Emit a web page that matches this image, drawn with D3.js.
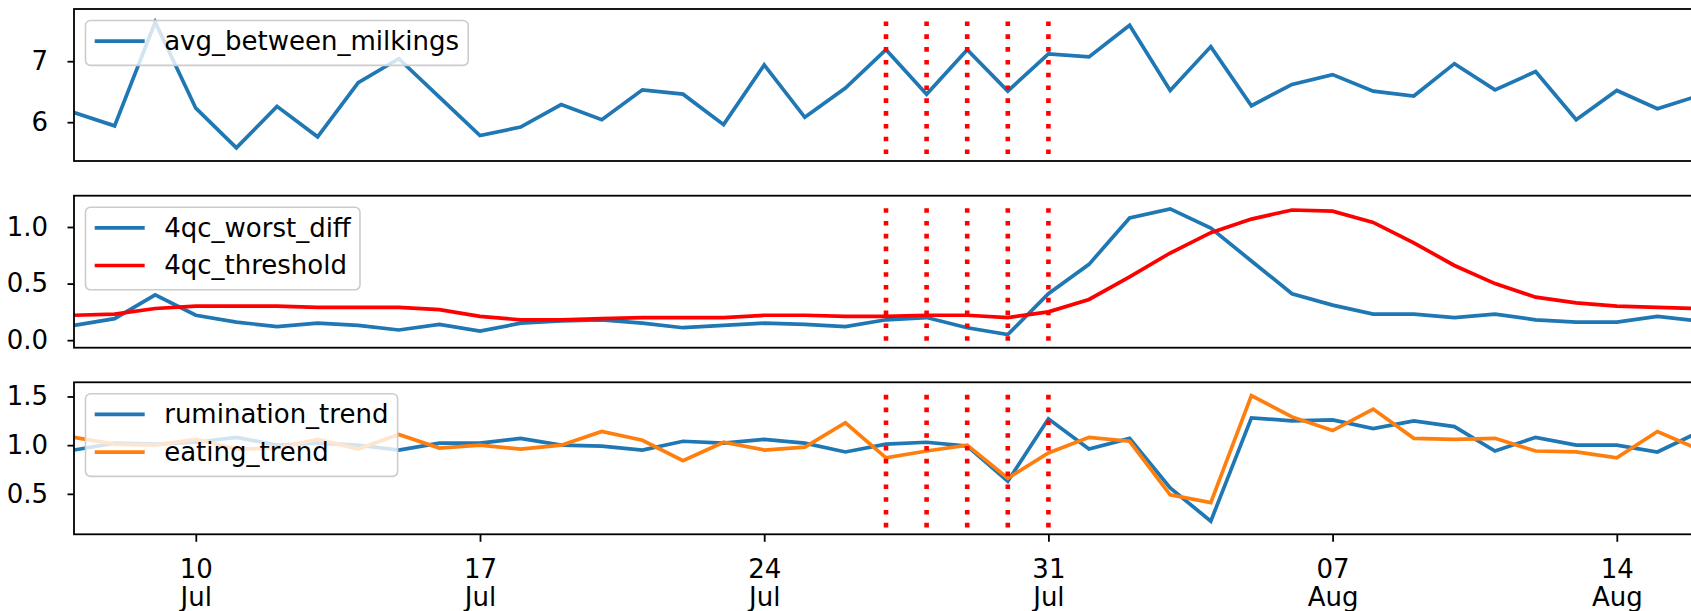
<!DOCTYPE html>
<html><head><meta charset="utf-8">
<script src="https://cdn.jsdelivr.net/npm/d3@7"></script>
<style>
body{margin:0;background:#fff}
svg{display:block}
text{font-family:"DejaVu Sans",sans-serif;fill:#000}
</style>
</head><body>
<svg id="chart" width="1691" height="611"></svg>
<script>
// ---------------- data ----------------
const dates = ["2017-07-07","2017-07-08","2017-07-09","2017-07-10","2017-07-11","2017-07-12","2017-07-13",
"2017-07-14","2017-07-15","2017-07-16","2017-07-17","2017-07-18","2017-07-19","2017-07-20",
"2017-07-21","2017-07-22","2017-07-23","2017-07-24","2017-07-25","2017-07-26","2017-07-27",
"2017-07-28","2017-07-29","2017-07-30","2017-07-31","2017-08-01","2017-08-02","2017-08-03",
"2017-08-04","2017-08-05","2017-08-06","2017-08-07","2017-08-08","2017-08-09","2017-08-10",
"2017-08-11","2017-08-12","2017-08-13","2017-08-14","2017-08-15","2017-08-16"];

const avgBetweenMilkings = [6.16,5.94,7.64,6.23,5.58,6.26,5.76,6.65,7.04,6.41,5.78,5.92,6.29,6.04,
6.53,6.46,5.96,6.94,6.08,6.56,7.19,6.46,7.19,6.51,7.12,7.07,7.59,6.52,7.24,6.27,6.62,6.78,6.51,
6.43,6.96,6.53,6.83,6.04,6.52,6.22,6.43];

const worstDiff = [0.13,0.19,0.40,0.22,0.16,0.12,0.15,0.13,0.09,0.14,0.08,0.15,0.17,0.18,
0.15,0.11,0.13,0.15,0.14,0.12,0.18,0.20,0.11,0.05,0.41,0.67,1.08,1.16,0.99,0.70,0.41,0.31,0.23,
0.23,0.20,0.23,0.18,0.16,0.16,0.21,0.17];

const threshold = [0.22,0.23,0.28,0.30,0.30,0.30,0.29,0.29,0.29,0.27,0.21,0.18,0.18,0.19,
0.20,0.20,0.20,0.22,0.22,0.21,0.21,0.22,0.22,0.20,0.25,0.36,0.56,0.77,0.95,1.07,1.15,1.14,1.04,
0.86,0.66,0.50,0.38,0.33,0.30,0.29,0.28];

const ruminationTrend = [0.95,1.02,1.01,1.03,1.08,1.00,1.02,1.00,0.95,1.02,1.02,1.07,1.00,0.99,
0.95,1.04,1.02,1.06,1.02,0.93,1.01,1.03,0.99,0.63,1.27,0.96,1.07,0.56,0.22,1.28,1.25,1.26,1.17,
1.25,1.19,0.94,1.08,1.00,1.00,0.93,1.13];

const eatingTrend = [1.08,1.01,1.00,1.06,0.96,0.97,1.06,0.96,1.11,0.97,1.00,0.96,1.00,1.14,
1.05,0.84,1.03,0.95,0.98,1.23,0.87,0.94,1.00,0.66,0.92,1.08,1.04,0.49,0.41,1.51,1.29,1.15,1.37,
1.07,1.06,1.07,0.94,0.93,0.87,1.14,0.96];

const eventDates = ["2017-07-27","2017-07-28","2017-07-29","2017-07-30","2017-07-31"];

const xTickDates = ["2017-07-10","2017-07-17","2017-07-24","2017-07-31","2017-08-07","2017-08-14"];
const xTickDays = ["10","17","24","31","07","14"];
const xTickMonths = ["Jul","Jul","Jul","Jul","Aug","Aug"];

const panel1Ticks = [6, 7];
const panel1TickLabels = ["6", "7"];
const panel2Ticks = [0, 0.5, 1.0];
const panel2TickLabels = ["0.0", "0.5", "1.0"];
const panel3Ticks = [0.5, 1.0, 1.5];
const panel3TickLabels = ["0.5", "1.0", "1.5"];

// ---------------- layout ----------------
const FS = 26;
const left = 74, right = 1698;
const parse = d3.utcParse("%Y-%m-%d");
const X = dates.map(parse);

const svg = d3.select("#chart");
const x = d3.scaleUtc().domain([X[0], X[X.length - 1]]).range([left, right]);

const panels = [
  {top: 9, bottom: 161, series: [{name: "avg_between_milkings", values: avgBetweenMilkings, color: "#1f77b4"}],
   ticks: panel1Ticks, labels: panel1TickLabels},
  {top: 195.7, bottom: 347.7, series: [{name: "4qc_worst_diff", values: worstDiff, color: "#1f77b4"},
                                       {name: "4qc_threshold", values: threshold, color: "#ff0000"}],
   ticks: panel2Ticks, labels: panel2TickLabels},
  {top: 382.3, bottom: 534.3, series: [{name: "rumination_trend", values: ruminationTrend, color: "#1f77b4"},
                                       {name: "eating_trend", values: eatingTrend, color: "#ff7f0e"}],
   ticks: panel3Ticks, labels: panel3TickLabels}
];

panels.forEach((p, pi) => {
  const all = p.series.flatMap(s => s.values);
  const dmin = d3.min(all), dmax = d3.max(all);
  const r = dmax - dmin;
  const a = dmin - 0.05 * r, b = dmax + 0.05 * r;      // vlines span
  const r2 = b - a;
  const y = d3.scaleLinear().domain([a - 0.05 * r2, b + 0.05 * r2]).range([p.bottom, p.top]);

  const g = svg.append("g");
  const clipId = "clip" + pi;
  svg.append("clipPath").attr("id", clipId)
    .append("rect").attr("x", left).attr("y", p.top).attr("width", right - left).attr("height", p.bottom - p.top);

  const plot = g.append("g").attr("clip-path", `url(#${clipId})`);

  p.series.forEach(s => {
    const line = d3.line().x((d, i) => x(X[i])).y(d => y(d));
    plot.append("path").datum(s.values)
      .attr("d", line)
      .attr("fill", "none")
      .attr("stroke", s.color)
      .attr("stroke-width", 3.7)
      .attr("stroke-linejoin", "miter")
      .attr("stroke-linecap", "butt");
  });

  plot.selectAll("line.ev").data(eventDates.map(parse)).join("line")
    .attr("class", "ev")
    .attr("x1", d => x(d)).attr("x2", d => x(d))
    .attr("y1", y(a)).attr("y2", y(b))
    .attr("stroke", "#ff0000")
    .attr("stroke-width", 4.6)
    .attr("stroke-dasharray", "4.6 8.2");

  const yAxis = d3.axisLeft(y).tickValues(p.ticks)
    .tickFormat((d, i) => p.labels[i]).tickSize(6.5).tickPadding(19.5);
  const ya = g.append("g").attr("transform", `translate(${left},0)`).call(yAxis);
  ya.select(".domain").remove();
  ya.selectAll(".tick line").attr("stroke", "#000").attr("stroke-width", 1.8);
  ya.selectAll(".tick text").attr("font-size", FS).attr("font-family", "DejaVu Sans").attr("fill", "#000");

  if (pi === 2) {
    const xAxis = d3.axisBottom(x).tickValues(xTickDates.map(parse)).tickSize(7.5).tickFormat("");
    const xa = g.append("g").attr("transform", `translate(0,${p.bottom})`).call(xAxis);
    xa.select(".domain").remove();
    xa.selectAll(".tick line").attr("stroke", "#000").attr("stroke-width", 1.8);
    xa.selectAll(".tick text").remove();
    xa.selectAll(".tick").each(function(d, i) {
      const t = d3.select(this).append("text")
        .attr("text-anchor", "middle").attr("font-size", FS).attr("font-family", "DejaVu Sans").attr("fill", "#000");
      t.append("tspan").attr("x", 0).attr("y", 44).text(xTickDays[i]);
      t.append("tspan").attr("x", 0).attr("y", 71.5).text(xTickMonths[i]);
    });
  }

  g.append("rect").attr("x", left).attr("y", p.top).attr("width", right - left).attr("height", p.bottom - p.top)
    .attr("fill", "none").attr("stroke", "#000").attr("stroke-width", 1.8);

  // legend
  const bap = 11.5, bp = 9.2, hl = 50, htp = 19.5, ls = 11.2, rowH = 26.5;
  const lg = g.append("g").attr("transform", `translate(${left + bap},${p.top + bap})`);
  const box = lg.append("rect").attr("rx", 5).attr("ry", 5)
    .attr("fill", "#fff").attr("fill-opacity", 0.8).attr("stroke", "#cccccc").attr("stroke-width", 1.6);
  let maxW = 0;
  p.series.forEach((s, si) => {
    const rowTop = bp + si * (rowH + ls);
    lg.append("line").attr("x1", bp).attr("x2", bp + hl)
      .attr("y1", rowTop + rowH * 0.43).attr("y2", rowTop + rowH * 0.43)
      .attr("stroke", s.color).attr("stroke-width", 3.7);
    const t = lg.append("text").attr("x", bp + hl + htp).attr("y", rowTop + rowH * 0.76)
      .attr("font-size", FS).attr("font-family", "DejaVu Sans").attr("fill", "#000").text(s.name);
    maxW = Math.max(maxW, t.node().getComputedTextLength());
  });
  const n = p.series.length;
  box.attr("x", 0).attr("y", 0)
    .attr("width", 2 * bp + hl + htp + maxW)
    .attr("height", 2 * bp + n * rowH + (n - 1) * ls);
});
</script>
</body></html>
